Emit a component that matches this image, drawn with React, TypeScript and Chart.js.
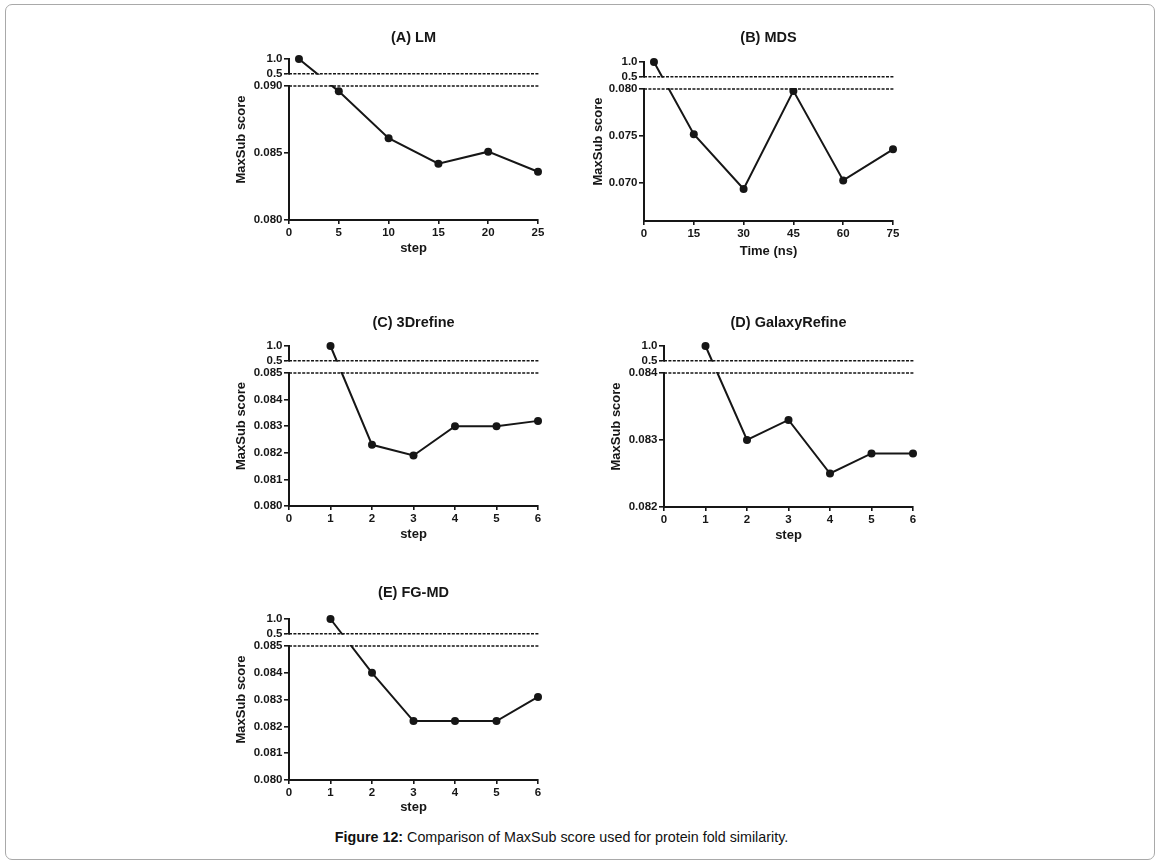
import React, { useEffect, useRef } from 'react';
import { Chart, LinearScale, registerables } from 'chart.js';

Chart.register(...registerables);

// ---------------- DATA ----------------
const titleA = '(A) LM';
const xTitleA = 'step';
const aX = [1, 5, 10, 15, 20, 25];
const aY = [1.0, 0.0896, 0.0861, 0.0842, 0.0851, 0.0836];
const aXTicks = [0, 5, 10, 15, 20, 25];
const aYTicks = [0.08, 0.085, 0.09, 0.5, 1.0];
const aYTickLabels = ['0.080', '0.085', '0.090', '0.5', '1.0'];
const aLowRange = [0.08, 0.09];

const titleB = '(B) MDS';
const xTitleB = 'Time (ns)';
const bX = [3, 15, 30, 45, 60, 75];
const bY = [1.0, 0.0752, 0.0694, 0.0798, 0.0703, 0.0736];
const bXTicks = [0, 15, 30, 45, 60, 75];
const bYTicks = [0.07, 0.075, 0.08, 0.5, 1.0];
const bYTickLabels = ['0.070', '0.075', '0.080', '0.5', '1.0'];
const bLowRange = [0.066, 0.08];

const titleC = '(C) 3Drefine';
const xTitleC = 'step';
const cX = [1, 2, 3, 4, 5, 6];
const cY = [1.0, 0.0823, 0.0819, 0.083, 0.083, 0.0832];
const cXTicks = [0, 1, 2, 3, 4, 5, 6];
const cYTicks = [0.08, 0.081, 0.082, 0.083, 0.084, 0.085, 0.5, 1.0];
const cYTickLabels = ['0.080', '0.081', '0.082', '0.083', '0.084', '0.085', '0.5', '1.0'];
const cLowRange = [0.08, 0.085];

const titleD = '(D) GalaxyRefine';
const xTitleD = 'step';
const dX = [1, 2, 3, 4, 5, 6];
const dY = [1.0, 0.083, 0.0833, 0.0825, 0.0828, 0.0828];
const dXTicks = [0, 1, 2, 3, 4, 5, 6];
const dYTicks = [0.082, 0.083, 0.084, 0.5, 1.0];
const dYTickLabels = ['0.082', '0.083', '0.084', '0.5', '1.0'];
const dLowRange = [0.082, 0.084];

const titleE = '(E) FG-MD';
const xTitleE = 'step';
const eX = [1, 2, 3, 4, 5, 6];
const eY = [1.0, 0.084, 0.0822, 0.0822, 0.0822, 0.0831];
const eXTicks = [0, 1, 2, 3, 4, 5, 6];
const eYTicks = [0.08, 0.081, 0.082, 0.083, 0.084, 0.085, 0.5, 1.0];
const eYTickLabels = ['0.080', '0.081', '0.082', '0.083', '0.084', '0.085', '0.5', '1.0'];
const eLowRange = [0.08, 0.085];

const yAxisTitle = 'MaxSub score';
const highRange = [0.5, 1.0];
const captionBold = 'Figure 12:';
const captionText = ' Comparison of MaxSub score used for protein fold similarity.';

// ---------------- STYLE / LAYOUT ----------------
const FONT = '"Liberation Sans", Arial, Helvetica, sans-serif';
const INK = '#161616';
const TITLE_SIZE = 14.5;
const AX_SIZE = 13;
const TICK_SIZE = 11.5;
const LEFT_W = 90;
const RIGHT_W = 90;
const TOP_H = 40;
const BOT_H = 45;
const TOP_SEG_PX = 14.7;
const GAP_PX = 12.3;

const layoutA = { left: 289, right: 538, top: 59, bottom: 220, titleY: 37.5, yTitleGap: 48, xTitleGap: 28.7 };
const layoutB = { left: 644, right: 893, top: 62, bottom: 221, titleY: 38, yTitleGap: 46, xTitleGap: 30 };
const layoutC = { left: 289, right: 538, top: 346, bottom: 506, titleY: 323, yTitleGap: 48, xTitleGap: 28 };
const layoutD = { left: 664, right: 913, top: 346, bottom: 507, titleY: 323, yTitleGap: 48, xTitleGap: 28 };
const layoutE = { left: 289, right: 538, top: 619, bottom: 780, titleY: 593, yTitleGap: 48, xTitleGap: 27.5 };

// ---------------- BROKEN Y SCALE ----------------
class BrokenLinearScale extends LinearScale {
  static id = 'brokenLinear';
  static defaults = {};
  buildTicks() {
    const vals = (this as any).options.brk.values as number[];
    (this as any).start = (this as any).min;
    (this as any).end = (this as any).max;
    return vals.map((v) => ({ value: v }));
  }
  getPixelForValue(value: any) {
    if (value === null || value === undefined || isNaN(value)) return NaN;
    const b = (this as any).options.brk;
    const top = (this as any).top;
    const bottom = (this as any).bottom;
    const topEnd = top + b.topPx;
    const lowStart = topEnd + b.gapPx;
    if (value >= b.hiMin) {
      return topEnd - ((value - b.hiMin) / (b.hiMax - b.hiMin)) * b.topPx;
    }
    return bottom - ((value - b.loMin) / (b.loMax - b.loMin)) * (bottom - lowStart);
  }
  getValueForPixel(pixel: number) {
    const b = (this as any).options.brk;
    const top = (this as any).top;
    const bottom = (this as any).bottom;
    const topEnd = top + b.topPx;
    const lowStart = topEnd + b.gapPx;
    if (pixel <= topEnd) return b.hiMin + ((topEnd - pixel) / b.topPx) * (b.hiMax - b.hiMin);
    return b.loMin + ((bottom - pixel) / (bottom - lowStart)) * (b.loMax - b.loMin);
  }
}
Chart.register(BrokenLinearScale as any);

const breakPlugin = {
  id: 'axisBreak',
  afterDatasetsDraw(chart: any) {
    const y = chart.scales.y;
    const b = y.options.brk;
    const { left, right } = chart.chartArea;
    const ctx = chart.ctx;
    const yHi = y.getPixelForValue(b.hiMin);
    const yLo = y.getPixelForValue(b.loMax);
    ctx.save();
    ctx.fillStyle = '#ffffff';
    ctx.fillRect(left - 2, yHi + 1, right - left + 12, yLo - yHi - 2);
    ctx.strokeStyle = INK;
    ctx.lineWidth = 1.6;
    ctx.setLineDash([3, 1.4]);
    ctx.beginPath();
    ctx.moveTo(left, yHi);
    ctx.lineTo(right + 1, yHi);
    ctx.moveTo(left, yLo);
    ctx.lineTo(right + 1, yLo);
    ctx.stroke();
    ctx.restore();
  },
};

type Spec = {
  title: string;
  xTitle: string;
  xs: number[];
  ys: number[];
  xTicks: number[];
  yTicks: number[];
  yTickLabels: string[];
  lowRange: number[];
  layout: typeof layoutA;
};

const specs: Spec[] = [
  { title: titleA, xTitle: xTitleA, xs: aX, ys: aY, xTicks: aXTicks, yTicks: aYTicks, yTickLabels: aYTickLabels, lowRange: aLowRange, layout: layoutA },
  { title: titleB, xTitle: xTitleB, xs: bX, ys: bY, xTicks: bXTicks, yTicks: bYTicks, yTickLabels: bYTickLabels, lowRange: bLowRange, layout: layoutB },
  { title: titleC, xTitle: xTitleC, xs: cX, ys: cY, xTicks: cXTicks, yTicks: cYTicks, yTickLabels: cYTickLabels, lowRange: cLowRange, layout: layoutC },
  { title: titleD, xTitle: xTitleD, xs: dX, ys: dY, xTicks: dXTicks, yTicks: dYTicks, yTickLabels: dYTickLabels, lowRange: dLowRange, layout: layoutD },
  { title: titleE, xTitle: xTitleE, xs: eX, ys: eY, xTicks: eXTicks, yTicks: eYTicks, yTickLabels: eYTickLabels, lowRange: eLowRange, layout: layoutE },
];

function Panel({ spec }: { spec: Spec }) {
  const ref = useRef<HTMLCanvasElement | null>(null);
  const L = spec.layout;
  const plotW = L.right - L.left;
  const plotH = L.bottom - L.top;
  const w = LEFT_W + plotW + RIGHT_W;
  const h = TOP_H + plotH + BOT_H;
  const canvasLeft = L.left - LEFT_W;
  const canvasTop = L.top - TOP_H;

  useEffect(() => {
    const titleLH = TITLE_SIZE * 1.2;
    const axLH = AX_SIZE * 1.2;
    const titlePadTop = L.titleY - canvasTop - titleLH / 2;
    const titlePadBottom = TOP_H - titlePadTop - titleLH;
    const xTitlePadBottom = BOT_H - L.xTitleGap - axLH / 2;
    const yTitlePadTop = LEFT_W - L.yTitleGap - axLH / 2;
    const xMin = spec.xTicks[0];
    const xMax = spec.xTicks[spec.xTicks.length - 1];

    const chart = new Chart(ref.current as HTMLCanvasElement, {
      type: 'line',
      data: {
        datasets: [
          {
            data: spec.xs.map((x, i) => ({ x, y: spec.ys[i] })),
            borderColor: INK,
            borderWidth: 2,
            backgroundColor: INK,
            pointRadius: 4,
            pointHoverRadius: 4,
            pointBackgroundColor: INK,
            pointBorderColor: INK,
            pointBorderWidth: 0,
            tension: 0,
            fill: false,
            clip: false as any,
          },
        ],
      },
      options: {
        animation: false,
        responsive: false,
        devicePixelRatio: 1,
        events: [],
        layout: { padding: 0 },
        font: { family: FONT },
        plugins: {
          legend: { display: false },
          tooltip: { enabled: false },
          title: {
            display: true,
            text: spec.title,
            color: INK,
            font: { family: FONT, size: TITLE_SIZE, weight: 'bold', lineHeight: 1.2 },
            padding: { top: titlePadTop, bottom: titlePadBottom },
          },
        },
        scales: {
          x: {
            type: 'linear',
            position: 'bottom',
            min: xMin,
            max: xMax,
            afterBuildTicks: (s: any) => {
              s.ticks = spec.xTicks.map((v) => ({ value: v }));
            },
            afterFit: (s: any) => {
              s.height = BOT_H;
            },
            grid: { display: true, drawOnChartArea: false, drawTicks: true, tickLength: 4, color: INK, lineWidth: 1.6 },
            border: { display: true, color: INK, width: 2 },
            ticks: {
              color: INK,
              padding: 1.5,
              autoSkip: false,
              maxRotation: 0,
              font: { family: FONT, size: TICK_SIZE, weight: 'bold', lineHeight: 1.2 },
              callback: (v: any) => String(v),
            },
            title: {
              display: true,
              text: spec.xTitle,
              color: INK,
              font: { family: FONT, size: AX_SIZE, weight: 'bold', lineHeight: 1.2 },
              padding: { top: 0, bottom: xTitlePadBottom },
            },
          },
          y: {
            type: 'brokenLinear' as any,
            position: 'left',
            min: spec.lowRange[0],
            max: highRange[1],
            brk: {
              values: spec.yTicks,
              loMin: spec.lowRange[0],
              loMax: spec.lowRange[1],
              hiMin: highRange[0],
              hiMax: highRange[1],
              topPx: TOP_SEG_PX,
              gapPx: GAP_PX,
            },
            afterFit: (s: any) => {
              s.width = LEFT_W;
            },
            grid: { display: true, drawOnChartArea: false, drawTicks: true, tickLength: 5, color: INK, lineWidth: 1.6 },
            border: { display: true, color: INK, width: 2 },
            ticks: {
              color: INK,
              padding: 1.5,
              autoSkip: false,
              font: { family: FONT, size: TICK_SIZE, weight: 'bold', lineHeight: 1.2 },
              callback: (_v: any, i: number) => spec.yTickLabels[i],
            },
            title: {
              display: true,
              text: yAxisTitle,
              color: INK,
              font: { family: FONT, size: AX_SIZE, weight: 'bold', lineHeight: 1.2 },
              padding: { top: yTitlePadTop, bottom: 0 },
            },
          } as any,
          y2: {
            type: 'linear',
            position: 'right',
            display: true,
            afterFit: (s: any) => {
              s.width = RIGHT_W;
            },
            grid: { display: false },
            border: { display: false },
            ticks: { display: false },
            title: { display: false },
          },
        },
      } as any,
      plugins: [breakPlugin],
    });
    return () => chart.destroy();
  }, []);

  return (
    <canvas
      ref={ref}
      width={w}
      height={h}
      style={{ position: 'absolute', left: canvasLeft, top: canvasTop, width: w, height: h }}
    />
  );
}

export default function App() {
  return (
    <div style={{ position: 'absolute', left: 0, top: 0, width: 1161, height: 866, background: '#ffffff', overflow: 'hidden' }}>
      <div
        style={{
          position: 'absolute',
          left: 5,
          top: 4,
          width: 1150,
          height: 856,
          boxSizing: 'border-box',
          border: '1.5px solid #a9a9a9',
          borderRadius: 7,
        }}
      />
      {specs.map((s, i) => (
        <Panel key={i} spec={s} />
      ))}
      <div
        style={{
          position: 'absolute',
          left: 0,
          top: 829,
          width: 1123,
          textAlign: 'center',
          fontFamily: FONT,
          fontSize: 14.3,
          lineHeight: '17px',
          color: '#111',
          whiteSpace: 'nowrap',
        }}
      >
        <b>{captionBold}</b>
        {captionText}
      </div>
    </div>
  );
}
